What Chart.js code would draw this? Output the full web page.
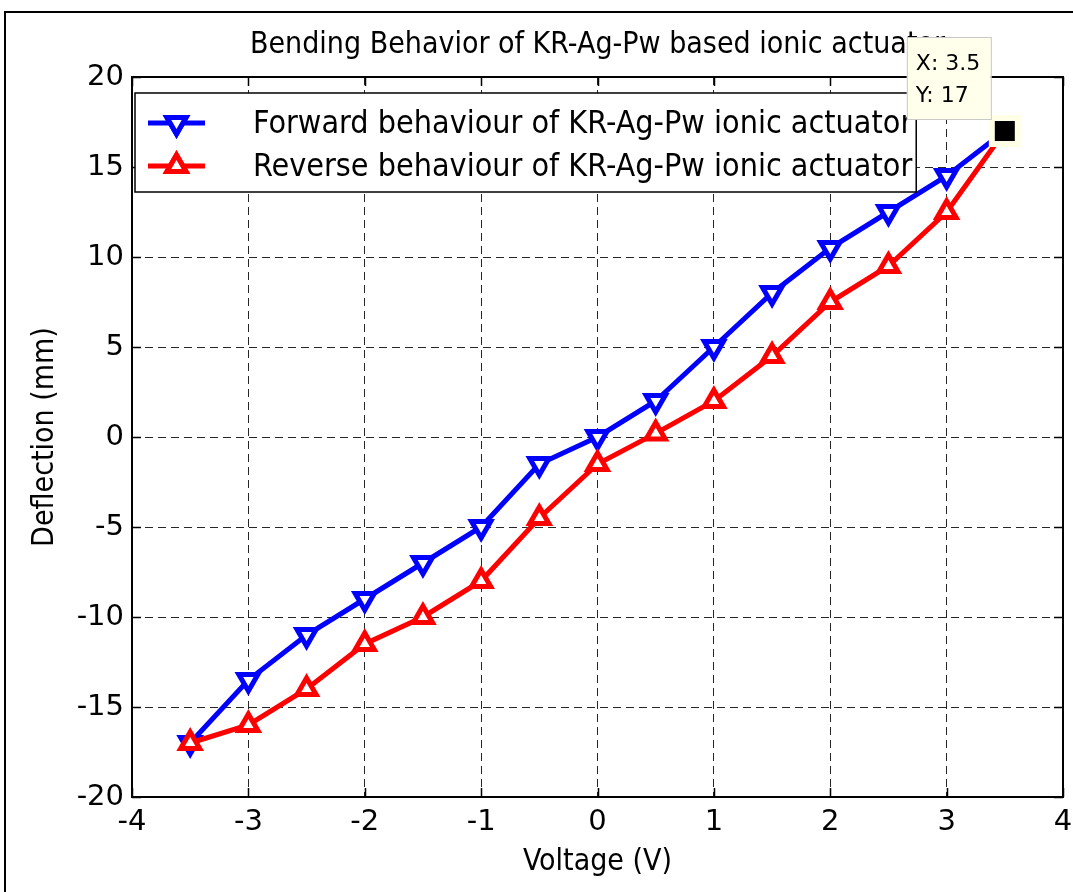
<!DOCTYPE html>
<html>
<head>
<meta charset="utf-8">
<title>Bending Behavior of KR-Ag-Pw based ionic actuator</title>
<script src="https://cdn.jsdelivr.net/npm/chart.js@4.4.1/dist/chart.umd.min.js"></script>
<style>
    html, body { margin: 0; padding: 0; background: #fff; }
    #wrap { width: 1073px; height: 892px; }
</style>
</head>
<body>
<div id="wrap"><canvas id="bendingChart" width="1073" height="892"></canvas></div>
<script>
// ===========================
// Data
// ===========================

const voltage = [-3.5, -3, -2.5, -2, -1.5, -1, -0.5, 0, 0.5, 1, 1.5, 2, 2.5, 3, 3.5];
const forwardDeflection = [-17, -13.5, -11, -9, -7, -5, -1.5, 0, 2, 5, 8, 10.5, 12.5, 14.5, 17];
const reverseDeflection = [-17, -16, -14, -11.5, -10, -8, -4.5, -1.5, 0.2, 2, 4.5, 7.5, 9.5, 12.5, 17];

const xTicks = [-4, -3, -2, -1, 0, 1, 2, 3, 4];
const yTicks = [-20, -15, -10, -5, 0, 5, 10, 15, 20];

const seriesLabels = [
    'Forward behaviour of KR-Ag-Pw ionic actuator',
    'Reverse behaviour of KR-Ag-Pw ionic actuator'
];
const tipPoint = [3.5, 17];

const condensed = "'DejaVu Sans Condensed', 'DejaVu Sans', sans-serif";
const plain = "'DejaVu Sans', sans-serif";

function toPoints(ys) {
    return voltage.map((v, i) => ({ x: v, y: ys[i] }));
}

// ===========================
// Plugins
// ===========================

// white page + figure border
const figureFrame = {
    id: 'figureFrame',
    beforeDraw(chart) {
        const ctx = chart.ctx;
        ctx.save();
        ctx.fillStyle = '#fff';
        ctx.fillRect(0, 0, chart.width, chart.height);
        ctx.strokeStyle = '#000';
        ctx.lineWidth = 2;
        ctx.strokeRect(5, 12, chart.width + 50, chart.height + 50);
        ctx.restore();
    }
};

// solid axes box with inward ticks
const axesBox = {
    id: 'axesBox',
    afterDatasetsDraw(chart) {
        const { ctx, chartArea: a, scales: { x, y } } = chart;
        const tl = 9;
        ctx.save();
        ctx.strokeStyle = '#000';
        ctx.lineWidth = 1.5;
        ctx.beginPath();
        xTicks.forEach(t => {
            const px = Math.round(x.getPixelForValue(t)) + 0.5;
            ctx.moveTo(px, a.top); ctx.lineTo(px, a.top + tl);
            ctx.moveTo(px, a.bottom); ctx.lineTo(px, a.bottom - tl);
        });
        yTicks.forEach(t => {
            const py = Math.round(y.getPixelForValue(t)) + 0.5;
            ctx.moveTo(a.left, py); ctx.lineTo(a.left + tl, py);
            ctx.moveTo(a.right, py); ctx.lineTo(a.right - tl, py);
        });
        ctx.stroke();
        ctx.lineWidth = 2;
        ctx.strokeRect(a.left, a.top, a.right - a.left, a.bottom - a.top);
        ctx.restore();
    }
};

// legend box inside the axes, top-left
const boxedLegend = {
    id: 'boxedLegend',
    afterDraw(chart) {
        const { ctx, chartArea: a } = chart;
        const left = a.left + 3;
        const top = a.top + 16;
        const lineX0 = left + 13, lineX1 = left + 70;
        const textX = left + 118;
        ctx.save();
        ctx.font = '32px ' + condensed;
        const maxW = Math.max(...chart.data.datasets.map(d => ctx.measureText(d.label).width));
        const w = textX - left + maxW + 4;
        const h = 99;
        ctx.fillStyle = '#fff';
        ctx.fillRect(left, top, w, h);
        ctx.strokeStyle = '#000';
        ctx.lineWidth = 1.5;
        ctx.strokeRect(left, top, w, h);

        chart.data.datasets.forEach((ds, i) => {
            const cy = top + 30 + i * 43;
            ctx.strokeStyle = ds.borderColor;
            ctx.lineWidth = ds.borderWidth;
            ctx.beginPath();
            ctx.moveTo(lineX0, cy);
            ctx.lineTo(lineX1, cy);
            ctx.stroke();
            Chart.helpers.drawPoint(ctx, {
                pointStyle: 'triangle',
                rotation: ds.pointRotation,
                radius: ds.pointRadius,
                borderWidth: ds.pointBorderWidth
            }, (lineX0 + lineX1) / 2, cy);
            ctx.fillStyle = ds.pointBackgroundColor;
            ctx.strokeStyle = ds.borderColor;
            ctx.lineWidth = ds.pointBorderWidth;
            ctx.fill();
            ctx.stroke();
            ctx.fillStyle = '#000';
            ctx.font = '32px ' + condensed;
            ctx.textBaseline = 'middle';
            ctx.textAlign = 'left';
            ctx.fillText(ds.label, textX, cy + 2);
        });
        ctx.restore();
    }
};

// MATLAB-style data tip
const dataTip = {
    id: 'dataTip',
    afterDraw(chart) {
        const { ctx, scales: { x, y } } = chart;
        const px = x.getPixelForValue(tipPoint[0]);
        const py = y.getPixelForValue(tipPoint[1]);
        ctx.save();
        ctx.fillStyle = '#ffffe6';
        ctx.fillRect(px - 16, py - 16, 32, 32);
        ctx.fillStyle = '#000';
        ctx.fillRect(px - 10, py - 10, 20, 20);

        const bx = px - 98, by = py - 94, bw = 84, bh = 82;
        ctx.fillStyle = '#ffffeb';
        ctx.fillRect(bx, by, bw, bh);
        ctx.strokeStyle = '#c8c8c8';
        ctx.lineWidth = 1;
        ctx.strokeRect(bx + 0.5, by + 0.5, bw, bh);
        ctx.fillStyle = '#000';
        ctx.font = '22px ' + plain;
        ctx.textBaseline = 'alphabetic';
        ctx.fillText('X: ' + tipPoint[0], bx + 9, by + 33);
        ctx.fillText('Y: ' + tipPoint[1], bx + 9, by + 65);
        ctx.restore();
    }
};

// ===========================
// Chart
// ===========================

const ctx = document.getElementById('bendingChart');

new Chart(ctx, {
    type: 'scatter',
    data: {
        datasets: [
            {
                label: seriesLabels[0],
                data: toPoints(forwardDeflection),
                showLine: true,
                borderColor: '#0000ff',
                backgroundColor: '#0000ff',
                borderWidth: 5,
                pointStyle: 'triangle',
                pointRotation: 180,
                pointRadius: 11,
                pointBorderWidth: 5,
                pointBackgroundColor: '#ffffff',
                order: 1
            },
            {
                label: seriesLabels[1],
                data: toPoints(reverseDeflection),
                showLine: true,
                borderColor: '#ff0000',
                backgroundColor: '#ff0000',
                borderWidth: 5,
                pointStyle: 'triangle',
                pointRotation: 0,
                pointRadius: 11,
                pointBorderWidth: 5,
                pointBackgroundColor: '#ffffff',
                order: 0
            }
        ]
    },
    options: {
        responsive: false,
        animation: false,
        events: [],
        layout: {
            autoPadding: false,
            padding: { left: 0, right: 10, top: 0, bottom: 0 }
        },
        plugins: {
            legend: { display: false },
            tooltip: { enabled: false },
            title: {
                display: true,
                text: 'Bending Behavior of KR-Ag-Pw based ionic actuator',
                fullSize: false,
                color: '#000',
                font: { family: condensed, size: 30, weight: 'normal', lineHeight: 1.2 },
                padding: { top: 27, bottom: 14 }
            }
        },
        scales: {
            x: {
                type: 'linear',
                min: -4,
                max: 4,
                afterBuildTicks: scale => {
                    scale.ticks = xTicks.map(v => ({ value: v }));
                },
                afterFit: scale => {
                    scale.height = 95;
                },
                ticks: {
                    color: '#000',
                    padding: 0,
                    font: { family: plain, size: 29 },
                    callback: v => String(v)
                },
                grid: {
                    color: '#262626',
                    lineWidth: 1,
                    drawTicks: true,
                    tickLength: 8,
                    tickColor: 'rgba(0,0,0,0)'
                },
                border: { display: false, dash: [8, 5] },
                title: {
                    display: true,
                    text: 'Voltage (V)',
                    color: '#000',
                    font: { family: condensed, size: 30, lineHeight: 1.2 },
                    padding: { top: 0, bottom: 12 }
                }
            },
            y: {
                type: 'linear',
                min: -20,
                max: 20,
                afterBuildTicks: scale => {
                    scale.ticks = yTicks.map(v => ({ value: v }));
                },
                afterFit: scale => { scale.width = 132; },
                ticks: {
                    color: '#000',
                    padding: 8,
                    font: { family: plain, size: 29 },
                    callback: v => String(v)
                },
                grid: {
                    color: '#262626',
                    lineWidth: 1,
                    drawTicks: false
                },
                border: { display: false, dash: [8, 5] },
                title: {
                    display: true,
                    text: 'Deflection (mm)',
                    color: '#000',
                    font: { family: condensed, size: 30, lineHeight: 1.2 },
                    padding: { top: 27, bottom: 0 }
                }
            }
        }
    },
    plugins: [figureFrame, axesBox, boxedLegend, dataTip]
});
</script>
</body>
</html>
